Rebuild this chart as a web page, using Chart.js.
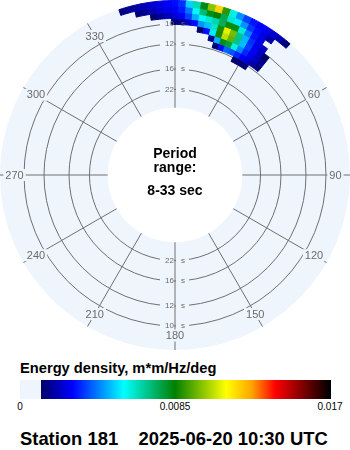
<!DOCTYPE html>
<html>
<head>
<meta charset="utf-8">
<script src="https://cdn.jsdelivr.net/npm/chart.js@4.4.1/dist/chart.umd.min.js"></script>
<style>
  body { margin: 0; background: #fff; font-family: 'Liberation Sans', Arial, sans-serif; }
  #wrap { position: relative; width: 350px; height: 450px; overflow: hidden; }
  #polar { position: absolute; left: 0; top: 0; }
  #cbTitle { position: absolute; left: 20px; top: 360px; font-weight: bold; font-size: 14.7px; color: #000; }
  #cbBar { position: absolute; left: 20px; top: 380px; width: 311px; height: 19px; }
  .cbTick { position: absolute; top: 401px; font-size: 10px; color: #000; transform: translateX(-50%); }
  #station { position: absolute; left: 20px; top: 428px; font-weight: bold; font-size: 18.4px; color: #000; white-space: pre; }
</style>
</head>
<body>
<div id="wrap">
  <canvas id="polar" width="350" height="350"></canvas>
  <div id="cbTitle">Energy density, m*m/Hz/deg</div>
  <div id="cbBar"></div>
  <div id="cbTicks"></div>
  <div id="station">Station 181    2025-06-20 10:30 UTC</div>
</div>
<script>
// period rings (s) and direction labels (deg)
const periodTicks = [10, 12, 16, 22];
const periodRange = [8, 33];
const dirLabels = [0, 30, 60, 90, 120, 150, 180, 210, 240, 270, 300, 330];

// frequency bin edges (Hz), inner -> outer
const freqEdges = [0.08, 0.085, 0.09, 0.095, 0.1, 0.105, 0.11, 0.115, 0.12];
// direction bin centres (deg, 2.5 deg wide); everything else is zero
const dirCenters = [-17.5, -15, -12.5, -10, -7.5, -5, -2.5, 0, 2.5, 5, 7.5, 10,
                    12.5, 15, 17.5, 20, 22.5, 25, 27.5, 30, 32.5, 35, 37.5, 40];
// energy density, one row per frequency bin (inner -> outer)
const energyRows = [
  [0, 0, 0, 0, 0, 0, 0, 0, 0, 0, 0, 0, 0, 0, 0, 0, 0, 0, 0.0012, 0.0013, 0.0013, 0, 0, 0],
  [0, 0, 0, 0, 0, 0, 0, 0, 0, 0, 0, 0, 0, 0, 0.0013, 0.0030, 0.0040, 0.0038, 0.0033, 0.0028, 0.0024, 0.0019, 0.0014, 0],
  [0, 0, 0, 0, 0, 0, 0, 0, 0, 0, 0, 0, 0, 0.0016, 0.0048, 0.0082, 0.0078, 0.0060, 0.0044, 0.0033, 0.0027, 0.0022, 0.0017, 0],
  [0, 0, 0, 0, 0, 0, 0, 0, 0, 0, 0, 0.0012, 0.0030, 0.0055, 0.0087, 0.0106, 0.0096, 0.0070, 0.0050, 0.0036, 0.0028, 0.0022, 0.0012, 0],
  [0, 0, 0, 0, 0, 0, 0, 0.0013, 0.0017, 0.0022, 0.0030, 0.0045, 0.0050, 0.0063, 0.0088, 0.0110, 0.0098, 0.0070, 0.0049, 0.0034, 0.0027, 0.0022, 0, 0],
  [0, 0, 0, 0, 0.0013, 0.0017, 0.0021, 0.0024, 0.0028, 0.0036, 0.0048, 0.0058, 0.0062, 0.0066, 0.0075, 0.0087, 0.0082, 0.0061, 0.0043, 0.0031, 0.0026, 0, 0, 0],
  [0, 0, 0.0014, 0.0017, 0.0021, 0.0024, 0.0026, 0.0028, 0.0032, 0.0042, 0.0058, 0.0072, 0.0082, 0.0085, 0.0076, 0.0062, 0.0055, 0.0045, 0.0035, 0.0030, 0.0026, 0.0018, 0, 0],
  [0.0015, 0.0017, 0.0019, 0.0021, 0.0024, 0.0026, 0.0028, 0.0030, 0.0034, 0.0052, 0.0065, 0.0083, 0.0100, 0.0120, 0.0090, 0.0060, 0.0045, 0.0036, 0.0031, 0.0029, 0.0027, 0.0024, 0.0020, 0.0014]
];

// colour scale
const cbMax = 0.017;
const cbTicks = [0, 0.0085, 0.017];
const cmapVals = [0.00115, 0.0029, 0.0057, 0.0085, 0.0113, 0.0127, 0.0140, 0.0155, 0.017];
const cmapCols = ['#000066', '#0000ff', '#00ffff', '#008000', '#ffff00', '#ffa500', '#ff0000', '#800000', '#000000'];

const discColor = '#eef5fd';
const gridColor = '#707070';
const labelColor = '#6a6a6a';
const sliceStep = 2.5;
const rAxisMin = -0.0258; // radius is linear in frequency, offset so 33 s sits on the inner circle
const rAxisMax = 0.12;

const hexRgb = h => [1, 3, 5].map(i => parseInt(h.substr(i, 2), 16));

function energyColor(v) {
    if (v < cmapVals[0]) return 'rgba(0,0,0,0)';
    for (let i = 1; i < cmapVals.length; i++) {
        if (v <= cmapVals[i]) {
            const t = (v - cmapVals[i - 1]) / (cmapVals[i] - cmapVals[i - 1]);
            const a = hexRgb(cmapCols[i - 1]), b = hexRgb(cmapCols[i]);
            const c = a.map((x, k) => Math.round(x + (b[k] - x) * t));
            return `rgb(${c[0]},${c[1]},${c[2]})`;
        }
    }
    return cmapCols[cmapCols.length - 1];
}

const nSlices = Math.round(360 / sliceStep);
const sliceLabels = Array.from({length: nSlices}, (_, k) => k * sliceStep);

// one doughnut ring per frequency bin, outermost first
const datasets = [];
for (let i = energyRows.length - 1; i >= 0; i--) {
    const colors = sliceLabels.map(d => {
        const dd = d > 180 ? d - 360 : d;
        const j = dirCenters.indexOf(dd);
        return energyColor(j < 0 ? 0 : energyRows[i][j]);
    });
    datasets.push({
        data: sliceLabels.map(() => 1),
        weight: freqEdges[i + 1] - freqEdges[i],
        backgroundColor: colors,
        borderColor: colors,
        borderWidth: 1,
        hoverOffset: 0,
        offset: 0
    });
}

function periodLabels(ctx, s, withBackdrop) {
    ctx.font = '8px "Liberation Sans", Arial, sans-serif';
    ctx.textBaseline = 'middle';
    periodTicks.forEach(per => {
        const d = s.getDistanceFromCenterForValue(1 / per);
        [0, 180].forEach(deg => {
            const p = s.getPointPosition(Math.round(deg / sliceStep), d);
            if (withBackdrop) {
                ctx.fillStyle = discColor;
                ctx.fillRect(p.x - 15, p.y - 4, 14, 8);
                ctx.fillRect(p.x + 1, p.y - 4, 13, 8);
                return;
            }
            ctx.fillStyle = labelColor;
            ctx.textAlign = 'right';
            ctx.fillText(String(per), p.x - 1, p.y);
            ctx.textAlign = 'left';
            ctx.fillText('s', p.x + 6, p.y);
        });
    });
}

const polarDecor = {
    id: 'polarDecor',
    beforeDatasetsDraw(chart) {
        const s = chart.scales.r;
        const ctx = chart.ctx;
        ctx.save();
        // direction labels sitting on the spokes
        ctx.font = '11px "Liberation Sans", Arial, sans-serif';
        ctx.textAlign = 'center';
        ctx.textBaseline = 'middle';
        const rLab = s.drawingArea * 0.917;
        dirLabels.forEach(deg => {
            const p = s.getPointPosition(Math.round(deg / sliceStep), rLab);
            const txt = String(deg);
            const w = ctx.measureText(txt).width;
            ctx.fillStyle = discColor;
            ctx.fillRect(p.x - w / 2 - 2, p.y - 6, w + 4, 12);
            ctx.fillStyle = labelColor;
            ctx.fillText(txt, p.x, p.y + 0.5);
        });
        periodLabels(ctx, s, true);
        ctx.restore();
    },
    afterDatasetsDraw(chart) {
        const s = chart.scales.r;
        const ctx = chart.ctx;
        ctx.save();
        periodLabels(ctx, s, false);
        ctx.fillStyle = '#fff';
        ctx.beginPath();
        ctx.arc(s.xCenter, s.yCenter, s.getDistanceFromCenterForValue(1 / periodRange[1]), 0, Math.PI * 2);
        ctx.fill();
        ctx.fillStyle = '#000';
        ctx.font = 'bold 14px "Liberation Sans", Arial, sans-serif';
        ctx.textAlign = 'center';
        ctx.textBaseline = 'alphabetic';
        ctx.fillText('Period', s.xCenter, s.yCenter - 17);
        ctx.fillText('range:', s.xCenter, s.yCenter - 3);
        ctx.fillText(periodRange[0] + '-' + periodRange[1] + ' sec', s.xCenter, s.yCenter + 20);
        ctx.restore();
    }
};

new Chart(document.getElementById('polar'), {
    type: 'doughnut',
    data: { labels: sliceLabels, datasets: datasets },
    options: {
        responsive: false,
        animation: false,
        events: [],
        rotation: -sliceStep / 2,
        cutout: ((freqEdges[0] - rAxisMin) / (rAxisMax - rAxisMin) * 100) + '%',
        layout: { padding: 0 },
        plugins: { legend: { display: false }, tooltip: { enabled: false } },
        scales: {
            r: {
                type: 'radialLinear',
                min: rAxisMin,
                max: rAxisMax,
                startAngle: 0,
                backgroundColor: discColor,
                grid: { circular: true, color: gridColor, lineWidth: 1 },
                angleLines: {
                    display: true,
                    color: gridColor,
                    lineWidth: ctx => Math.round(ctx.index * sliceStep) % 30 === 0 ? 1 : 0
                },
                pointLabels: { display: false },
                ticks: { display: false },
                afterBuildTicks: axis => {
                    axis.ticks = periodTicks.slice().reverse().map(p => ({ value: 1 / p }));
                }
            }
        }
    },
    plugins: [polarDecor]
});

// colour bar
const cbWidth = 310;
const cbPx = v => (v / cbMax * cbWidth).toFixed(1) + 'px';
let stops = [`${discColor} 0px`, `${discColor} ${cbPx(cmapVals[0])}`];
cmapVals.forEach((v, i) => stops.push(`${cmapCols[i]} ${cbPx(v)}`));
document.getElementById('cbBar').style.background = `linear-gradient(to right, ${stops.join(', ')})`;
const tickBox = document.getElementById('cbTicks');
cbTicks.forEach(v => {
    const el = document.createElement('div');
    el.className = 'cbTick';
    el.style.left = (20 + v / cbMax * cbWidth) + 'px';
    el.textContent = String(v);
    tickBox.appendChild(el);
});
</script>
</body>
</html>
